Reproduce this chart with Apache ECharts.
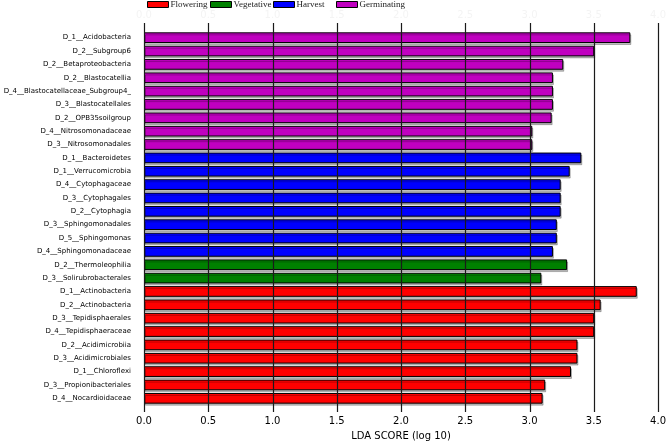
<!DOCTYPE html>
<html>
<head>
<meta charset="utf-8">
<script src="https://cdn.jsdelivr.net/npm/echarts@6/dist/echarts.min.js"></script>
<style>html,body{margin:0;padding:0;background:#fff}#c{width:669px;height:446px}</style>
</head>
<body>
<div id="c"></div>
<script>
// Data (top to bottom)
var categories = [
  'D_1__Acidobacteria','D_2__Subgroup6','D_2__Betaproteobacteria','D_2__Blastocatellia',
  'D_4__Blastocatellaceae_Subgroup4_','D_3__Blastocatellales','D_2__OPB35soilgroup',
  'D_4__Nitrosomonadaceae','D_3__Nitrosomonadales',
  'D_1__Bacteroidetes','D_1__Verrucomicrobia','D_4__Cytophagaceae','D_3__Cytophagales',
  'D_2__Cytophagia','D_3__Sphingomonadales','D_5__Sphingomonas','D_4__Sphingomonadaceae',
  'D_2__Thermoleophilia','D_3__Solirubrobacterales',
  'D_1__Actinobacteria','D_2__Actinobacteria','D_3__Tepidisphaerales','D_4__Tepidisphaeraceae',
  'D_2__Acidimicrobiia','D_3__Acidimicrobiales','D_1__Chloroflexi','D_3__Propionibacteriales',
  'D_4__Nocardioidaceae'
];
var ldaScores = [
  3.77, 3.49, 3.25, 3.17, 3.17, 3.17, 3.16, 3.01, 3.01,
  3.39, 3.30, 3.23, 3.23, 3.23, 3.20, 3.20, 3.17,
  3.28, 3.08,
  3.82, 3.54, 3.49, 3.49, 3.36, 3.36, 3.31, 3.11, 3.09
];
var groupOf = [
  'Germinating','Germinating','Germinating','Germinating','Germinating','Germinating','Germinating','Germinating','Germinating',
  'Harvest','Harvest','Harvest','Harvest','Harvest','Harvest','Harvest','Harvest',
  'Vegetative','Vegetative',
  'Flowering','Flowering','Flowering','Flowering','Flowering','Flowering','Flowering','Flowering','Flowering'
];
var groups = ['Flowering','Vegetative','Harvest','Germinating'];
var groupColors = ['#ff0000','#008000','#0000ff','#c000c0'];
var xTickValues = [0, 0.5, 1.0, 1.5, 2.0, 2.5, 3.0, 3.5, 4.0];

var chart = echarts.init(document.getElementById('c'), null, {renderer:'canvas'});

var series = groups.map(function (g, gi) {
  return {
    name: g,
    type: 'bar',
    stack: 'all',
    xAxisIndex: 0,
    yAxisIndex: 0,
    barCategoryGap: '20%',
    z: 2,
    itemStyle: {
      color: groupColors[gi],
      borderColor: '#000',
      borderWidth: 1,
      shadowColor: 'rgba(0,0,0,0.25)',
      shadowOffsetX: 1,
      shadowOffsetY: 2,
      shadowBlur: 0
    },
    emphasis: {disabled: true},
    data: ldaScores.map(function (v, i) { return groupOf[i] === g ? v : '-'; })
  };
});

// overlay vertical grid lines on top of the bars
series.push({
  type: 'custom',
  xAxisIndex: 1,
  yAxisIndex: 1,
  z: 20,
  zlevel: 1,
  silent: true,
  clip: false,
  data: xTickValues.map(function (v) { return [v]; }),
  encode: {x: 0},
  renderItem: function (params, api) {
    var v = api.value(0);
    var p1 = api.coord([v, 0]);
    var p2 = api.coord([v, 1]);
    var x = Math.round(p1[0]) + 0.5;
    return {
      type: 'line',
      z2: 100,
      shape: {x1: x, y1: p1[1], x2: x, y2: p2[1]},
      style: {stroke: '#1a1a1a', lineWidth: 1.2}
    };
  }
});

var legendLefts = [147, 210, 273, 336];
var legends = groups.map(function (g, gi) {
  return {
    data: [g],
    left: legendLefts[gi],
    top: 0,
    itemWidth: 21,
    itemHeight: 6,
    icon: 'rect',
    padding: 0,
    selectedMode: false,
    itemStyle: {borderColor: '#000', borderWidth: 1},
    textStyle: {fontFamily: 'Liberation Serif', fontSize: 9, color: '#222', padding: [0,0,0,-3]}
  };
});

chart.setOption({
  animation: false,
  backgroundColor: '#fff',
  legend: legends,
  grid: [
    {left: 144, right: 9, top: 31, bottom: 41},
    {left: 144, right: 9, top: 23, bottom: 30}
  ],
  xAxis: [
    {gridIndex: 0, type: 'value', min: 0, max: 4, interval: 0.5, show: false},
    {gridIndex: 1, type: 'value', min: 0, max: 4, interval: 0.5, position: 'bottom',
      axisLine: {show: false}, axisTick: {show: false},
      splitLine: {show: false},
      axisLabel: {color: '#000', fontFamily: 'DejaVu Sans', fontSize: 10, margin: 4,
        formatter: function (v) { return v.toFixed(1); }},
      name: 'LDA SCORE (log 10)', nameLocation: 'middle', nameGap: 17,
      nameTextStyle: {color: '#000', fontFamily: 'DejaVu Sans', fontSize: 10}
    },
    {gridIndex: 1, type: 'value', min: 0, max: 4, interval: 0.5, position: 'top',
      axisLine: {show: false}, axisTick: {show: false}, splitLine: {show: false},
      axisLabel: {color: '#f4f4f4', fontFamily: 'DejaVu Sans', fontSize: 10, margin: 3,
        formatter: function (v) { return v.toFixed(1); }}
    }
  ],
  yAxis: [
    {gridIndex: 0, type: 'category', data: categories, inverse: true,
      axisLine: {show: false}, axisTick: {show: false}, splitLine: {show: false},
      axisLabel: {color: '#000', fontFamily: 'DejaVu Sans', fontSize: 7, margin: 13, interval: 0}
    },
    {gridIndex: 1, type: 'value', show: false, min: 0, max: 1}
  ],
  series: series
});
</script>
</body>
</html>
